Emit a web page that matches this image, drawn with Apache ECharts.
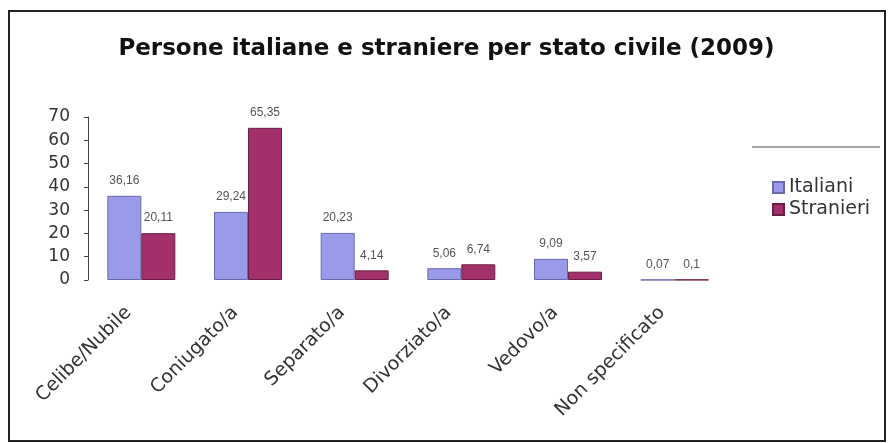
<!DOCTYPE html>
<html>
<head>
<meta charset="utf-8">
<script src="https://cdn.jsdelivr.net/npm/echarts@6/dist/echarts.min.js"></script>
<style>
html,body{margin:0;padding:0;background:#fff;}
#c{width:893px;height:443px;}
</style>
</head>
<body>
<div id="c"></div>
<script>
var categories = ['Celibe/Nubile', 'Coniugato/a', 'Separato/a', 'Divorziato/a', 'Vedovo/a', 'Non specificato'];
var italiani = [36.16, 29.24, 20.23, 5.06, 9.09, 0.07];
var stranieri = [20.11, 65.35, 4.14, 6.74, 3.57, 0.1];
var yTicks = [0, 10, 20, 30, 40, 50, 60, 70];

var chart = echarts.init(document.getElementById('c'));
function fmt(p){ return String(p.value).replace('.', ','); }
var font = 'DejaVu Sans, Verdana, sans-serif';
var thin = 'Liberation Sans, Arial, sans-serif';
chart.setOption({
  backgroundColor: '#fff',
  animation: false,
  title: {
    text: 'Persone italiane e straniere per stato civile (2009)',
    left: 'center', top: 33,
    textStyle: {fontFamily: font, fontSize: 23, fontWeight: 'bold', color: '#111'}
  },
  legend: {
    orient: 'vertical', left: 767, top: 173, itemGap: 3,
    itemWidth: 11, itemHeight: 11, icon: 'rect',
    textStyle: {fontFamily: font, fontSize: 19, color: '#333'},
    data: ['Italiani', 'Stranieri']
  },
  graphic: [
    {type: 'rect', shape: {x: 9, y: 11, width: 876, height: 430}, style: {fill: 'none', stroke: '#222', lineWidth: 2}, silent: true},
    {type: 'line', shape: {x1: 752, y1: 147, x2: 880, y2: 147}, style: {stroke: '#888', lineWidth: 1.5}, silent: true}
  ],
  grid: {left: 88, right: 165, top: 117, bottom: 163},
  xAxis: {
    type: 'category', data: categories,
    axisLine: {show: false}, axisTick: {show: false},
    axisLabel: {rotate: 45, interval: 0, margin: 17, padding: [0, 18, 0, 0], fontFamily: font, fontSize: 19, color: '#333'}
  },
  yAxis: {
    type: 'value', min: 0, max: 70, interval: 10,
    splitLine: {show: false},
    axisLine: {show: true, lineStyle: {color: '#444'}},
    axisTick: {show: true, length: 4, lineStyle: {color: '#444'}},
    axisLabel: {fontFamily: font, fontSize: 17, color: '#333', margin: 18,
      formatter: function(v){ return yTicks.indexOf(v) >= 0 ? String(v) : ''; }}
  },
  series: [
    {name: 'Italiani', type: 'bar', data: italiani, barWidth: 34, barGap: '0%',
     itemStyle: {color: '#9a9aea', borderColor: '#6a6aaa', borderWidth: 1},
     label: {show: true, position: 'top', distance: 9, formatter: fmt, fontFamily: thin, fontSize: 12, color: '#555'}},
    {name: 'Stranieri', type: 'bar', data: stranieri, barWidth: 34,
     itemStyle: {color: '#a3306a', borderColor: '#6a2040', borderWidth: 1},
     label: {show: true, position: 'top', distance: 9, formatter: fmt, fontFamily: thin, fontSize: 12, color: '#555'}}
  ]
});
</script>
</body>
</html>
